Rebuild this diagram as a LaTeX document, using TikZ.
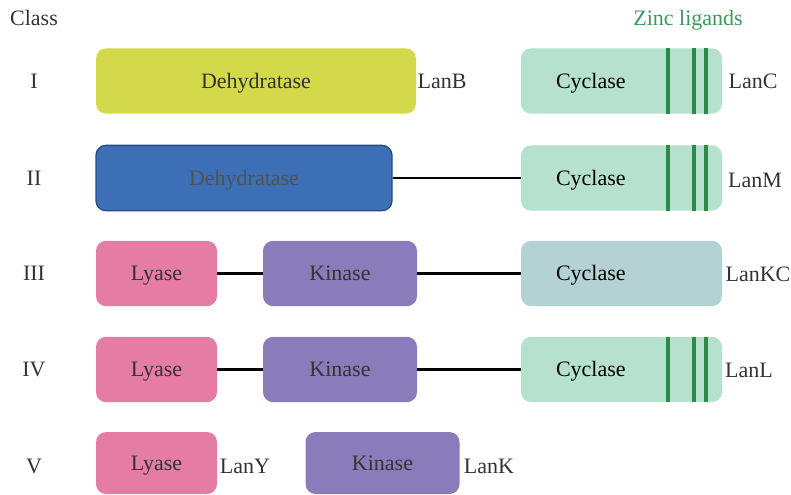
\documentclass[tikz,border=0pt]{standalone}
\usepackage{fontspec}
\setmainfont{Liberation Serif}
\usetikzlibrary{positioning}

\definecolor{dehyY}{RGB}{212,217,76}
\definecolor{dehyB}{RGB}{61,111,182}
\definecolor{dehyBdark}{RGB}{40,75,130}
\definecolor{cycG}{RGB}{182,225,206}
\definecolor{cycKC}{RGB}{180,209,211}
\definecolor{lyaseP}{RGB}{229,124,163}
\definecolor{kinaseV}{RGB}{138,123,186}
\definecolor{zincG}{RGB}{46,139,71}
\definecolor{txtG}{RGB}{62,150,92}

\begin{document}
\begin{tikzpicture}[
    x=0.75pt, y=-0.75pt,
    font=\fontsize{16.5}{19}\selectfont,
    dom/.style={rounded corners=7.5pt, minimum height=49pt, align=center, text=black!80,
        inner sep=0pt, text height=2.3ex, text depth=0pt},
    dehy/.style={dom, fill=dehyY, minimum width=240pt},
    dehyii/.style={dom, fill=dehyB, draw=dehyBdark, line width=1pt, minimum width=222pt, text=black!68},
    cyc/.style={dom, fill=cycG, minimum width=150.75pt, text=black},
    lyase/.style={dom, fill=lyaseP, minimum width=90.75pt},
    kinase/.style={dom, fill=kinaseV, minimum width=115.5pt},
    lab/.style={text=black!80, inner sep=0pt, text height=2.3ex, text depth=0pt},
    link/.style={line width=1.6pt, draw=black},
    zinc/.style={line width=3pt, draw=zincG}
]
\useasboundingbox (0,0) rectangle (791,494);

\node[lab] (class) at (34,18) {Class};
\node[lab, text=txtG] (zinclab) at (688,18) {Zinc ligands};

% class I
\node[lab] (cI) at (34,81) {I};
\node[dehy] (dehyI) at (256,81) {Dehydratase};
\node[lab] (lanB) at (442,81) {LanB};
\node[cyc] (cycI) at (621.5,81) {\hspace*{-46pt}Cyclase};
\node[lab] (lanC) at (753,81) {LanC};

% class II
\node[lab] (cII) at (34,178) {II};
\node[dehyii] (dehyII) at (244,178) {Dehydratase};
\node[cyc] (cycII) at (621.5,178) {\hspace*{-46pt}Cyclase};
\node[lab] (lanM) at (755,180) {LanM};

% class III
\node[lab] (cIII) at (34,273.5) {III};
\node[lyase] (lyIII) at (156.5,273.5) {Lyase};
\node[kinase] (kiIII) at (340,273.5) {Kinase};
\node[cyc, fill=cycKC] (cycIII) at (621.5,273.5) {\hspace*{-46pt}Cyclase};
\node[lab] (lanKC) at (758,274) {LanKC};

% class IV
\node[lab] (cIV) at (34,369.5) {IV};
\node[lyase] (lyIV) at (156.5,369.5) {Lyase};
\node[kinase] (kiIV) at (340,369.5) {Kinase};
\node[cyc] (cycIV) at (621.5,369.5) {\hspace*{-46pt}Cyclase};
\node[lab] (lanL) at (749,370) {LanL};

% class V
\node[lab] (cV) at (34,466) {V};
\node[lyase, minimum height=46.5pt] (lyV) at (156.5,463) {Lyase};
\node[lab] (lanY) at (245,466) {LanY};
\node[kinase, minimum height=46.5pt] (kiV) at (382.5,463) {Kinase};
\node[lab] (lanK) at (489,466) {LanK};

\foreach \c in {cycI,cycII,cycIV}{
  \foreach \d in {34.9,54.4,63}{\draw[zinc] ([xshift=\d pt]\c.north) -- ([xshift=\d pt]\c.south);}
}

\draw[link] (dehyII.east) -- (cycII.west);
\draw[link] (lyIII.east) -- (kiIII.west);
\draw[link] (kiIII.east) -- (cycIII.west);
\draw[link] (lyIV.east) -- (kiIV.west);
\draw[link] (kiIV.east) -- (cycIV.west);
\end{tikzpicture}
\end{document}
